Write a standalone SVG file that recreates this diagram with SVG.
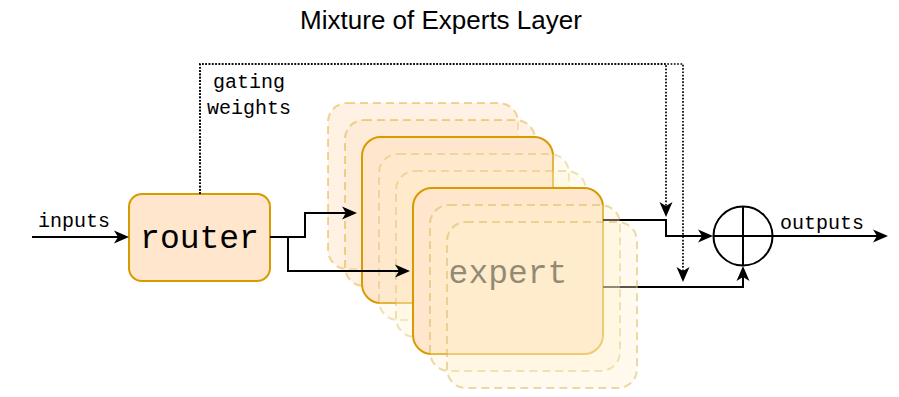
<svg xmlns="http://www.w3.org/2000/svg" width="899" height="397" viewBox="0 0 899 397">
  <defs>
    <marker id="arr" markerUnits="userSpaceOnUse" markerWidth="16" markerHeight="14" refX="4" refY="6.5" orient="auto" overflow="visible">
      <path d="M0,0 L15,6.5 L0,13 L4,6.5 Z" fill="#000"/>
    </marker>
    <style>
      .title { font-family: "Liberation Sans", Arial, sans-serif; font-size: 26px; fill: #000; }
      .mono { font-family: "Liberation Mono", "Courier New", monospace; fill: #000; }
      .lbl { font-size: 20px; }
      .big { font-size: 33px; }
      .solid { fill: #ffe6cc; stroke: #d79b00; stroke-width: 2; }
      .ghostA { fill: #ffe6cc; fill-opacity: 0.5; stroke: #d79b00; stroke-opacity: 0.4; stroke-width: 2; stroke-dasharray: 8 5; }
      .ghostB { fill: #fff2cc; fill-opacity: 0.3; stroke: #d6b656; stroke-opacity: 0.4; stroke-width: 2; stroke-dasharray: 8 5; }
      .ghostC { fill: #fff2cc; fill-opacity: 0.35; stroke: #d6b656; stroke-opacity: 0.5; stroke-width: 2; stroke-dasharray: 8 5; }
      .edge { fill: none; stroke: #000; stroke-width: 2; }
      .dot { fill: none; stroke: #000; stroke-width: 1.7; stroke-dasharray: 1.7 1.6; }
    </style>
  </defs>

  <text class="title" x="441" y="29" text-anchor="middle">Mixture of Experts Layer</text>

  <g id="router">
    <rect class="solid" x="129" y="194" width="141" height="87" rx="13"/>
    <text class="mono big" x="199.5" y="248" text-anchor="middle">router</text>
  </g>

  <g id="expert-ghost-1"><rect class="ghostA" x="328" y="103" width="190" height="166" rx="19"/></g>
  <g id="expert-ghost-2"><rect class="ghostA" x="345" y="120" width="190" height="166" rx="19"/></g>
  <g id="expert-back"><rect class="solid" x="362" y="137" width="191" height="166" rx="19"/></g>
  <g id="expert-ghost-3"><rect class="ghostB" x="379" y="154" width="190" height="166" rx="19"/></g>
  <g id="expert-ghost-4"><rect class="ghostB" x="396" y="171" width="190" height="166" rx="19"/></g>
  <g id="expert">
    <rect class="solid" x="413" y="188" width="190" height="166" rx="19"/>
    <text class="mono big" x="508" y="283" text-anchor="middle">expert</text>
  </g>

  <g id="sum">
    <circle cx="743" cy="236" r="29.5" fill="#fff" stroke="#000" stroke-width="2"/>
    <path d="M713.5,236 H772.5 M743,206.5 V265.5" stroke="#000" stroke-width="2" fill="none"/>
  </g>

  <g id="connectors">
    <path class="edge" d="M32,237 H118" marker-end="url(#arr)"/>
    <path class="edge" d="M270,237 H305 V213 H346" marker-end="url(#arr)"/>
    <path class="edge" d="M288,237 V271 H399" marker-end="url(#arr)"/>
    <path class="edge" d="M603,220 H666 V236 H702" marker-end="url(#arr)"/>
    <path class="edge" d="M603,287 H743 V277" marker-end="url(#arr)"/>
    <path class="edge" d="M772.5,236 H877" marker-end="url(#arr)"/>
    <path class="dot" d="M200,194 V64 H666 V206" marker-end="url(#arr)"/>
    <path class="dot" d="M200,194 V64 H683 V271" marker-end="url(#arr)"/>
    <text class="mono lbl" x="74" y="227" text-anchor="middle">inputs</text>
    <text class="mono lbl" x="249" y="88" text-anchor="middle">gating</text>
    <text class="mono lbl" x="249" y="114" text-anchor="middle">weights</text>
    <text class="mono lbl" x="822" y="229" text-anchor="middle">outputs</text>
  </g>

  <g id="expert-ghost-5"><rect class="ghostC" x="430" y="205" width="190" height="166" rx="19"/></g>
  <g id="expert-ghost-6"><rect class="ghostC" x="447" y="222" width="190" height="166" rx="19"/></g>
</svg>
